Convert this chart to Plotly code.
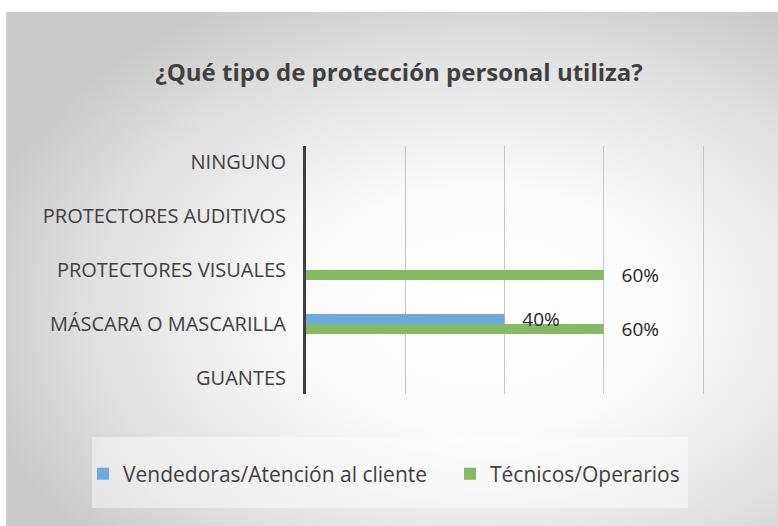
import plotly.graph_objects as go
import urllib.parse

# ---- data ----
categories = ["GUANTES", "MÁSCARA O MASCARILLA", "PROTECTORES VISUALES",
              "PROTECTORES AUDITIVOS", "NINGUNO"]
vendedoras = [0, 0.40, 0, 0, 0]
tecnicos = [0, 0.60, 0.60, 0, 0]
series_names = ["Vendedoras/Atención al cliente", "Técnicos/Operarios"]
title_text = "¿Qué tipo de protección personal utiliza?"

FONT = "'Open Sans', Lato, sans-serif"
TXT = "#404040"
W, H = 778, 526
L, R, T, B = 306, 70, 146, 132
pw, ph = W - L - R, H - T - B


def labels(vals):
    return ["\u00a0\u00a0\u00a0" + f"{v:.0%}" if v > 0 else "" for v in vals]


def px_x(p):
    return (p - L) / pw


def px_y(p):
    return (H - B - p) / ph


fig = go.Figure()
fig.add_trace(go.Bar(
    y=categories, x=tecnicos, orientation="h", name=series_names[1],
    marker=dict(color="#84BA64", line=dict(width=0)),
    text=labels(tecnicos), textposition="outside", constraintext="none",
    outsidetextfont=dict(family=FONT, size=19, color="#1e1e1e"),
    cliponaxis=False, legend="legend2",
))
fig.add_trace(go.Bar(
    y=categories, x=vendedoras, orientation="h", name=series_names[0],
    marker=dict(color="#6FA8DC", line=dict(width=0)),
    text=labels(vendedoras), textposition="outside", constraintext="none",
    outsidetextfont=dict(family=FONT, size=19, color="#1e1e1e"),
    cliponaxis=False, legend="legend",
))

# background gradient (chart area) as svg image
svg = (
    "<svg xmlns='http://www.w3.org/2000/svg' width='772' height='514' "
    "viewBox='0 0 772 514' preserveAspectRatio='none'>"
    "<defs><radialGradient id='g' cx='0.62' cy='0.58' r='0.68' "
    "gradientUnits='objectBoundingBox'>"
    "<stop offset='0' stop-color='#ffffff'/>"
    "<stop offset='0.35' stop-color='#fbfbfb'/>"
    "<stop offset='0.75' stop-color='#e0e0e0'/>"
    "<stop offset='1' stop-color='#c9c9c9'/>"
    "</radialGradient></defs>"
    "<rect x='0' y='0' width='772' height='514' fill='url(#g)'/>"
    "<rect x='0.5' y='0.5' width='800' height='600' fill='none' stroke='#d0d0d0'/>"
    "</svg>"
)
src = "data:image/svg+xml;charset=utf-8," + urllib.parse.quote(svg)

fig.add_layout_image(dict(
    source=src, xref="paper", yref="paper",
    x=px_x(6), y=px_y(12), sizex=(W - 6) / pw, sizey=(H - 12) / ph,
    xanchor="left", yanchor="top", sizing="stretch", layer="below",
))

# legend box
fig.add_shape(type="rect", xref="paper", yref="paper",
              x0=px_x(92), x1=px_x(688), y0=px_y(508), y1=px_y(437),
              fillcolor="rgba(255,255,255,0.45)", line=dict(width=0),
              layer="below")

legend_font = dict(family=FONT, size=21, color=TXT)

fig.update_layout(
    width=W, height=H,
    margin=dict(l=L, r=R, t=T, b=B),
    paper_bgcolor="white", plot_bgcolor="rgba(0,0,0,0)",
    barmode="group", bargap=0.629, bargroupgap=0,
    title=dict(text="<b>" + title_text + "</b>", x=px_x(399), xanchor="center",
               xref="paper", y=1 - 73 / H, yanchor="middle",
               font=dict(family=FONT, size=24, color=TXT)),
    xaxis=dict(range=[0, 0.81], dtick=0.2, tick0=0, showgrid=True,
               gridcolor="#c6c6c6", gridwidth=1, showticklabels=False,
               zeroline=False, showline=False, fixedrange=True),
    yaxis=dict(type="category", range=[-0.3, 4.3], showline=True,
               linecolor="#404040", linewidth=3, showgrid=False,
               ticks="", ticklabelstandoff=13,
               tickfont=dict(family=FONT, size=20, color=TXT),
               fixedrange=True),
    legend=dict(orientation="h", x=px_x(83), xanchor="left",
                y=px_y(474), yanchor="middle",
                bgcolor="rgba(0,0,0,0)", font=legend_font),
    legend2=dict(orientation="h", x=px_x(450), xanchor="left",
                 y=px_y(474), yanchor="middle",
                 bgcolor="rgba(0,0,0,0)", font=legend_font),
    showlegend=True,
)

fig.write_html("out.html", config={"displayModeBar": False},
               post_script="document.body.style.margin='0';")
